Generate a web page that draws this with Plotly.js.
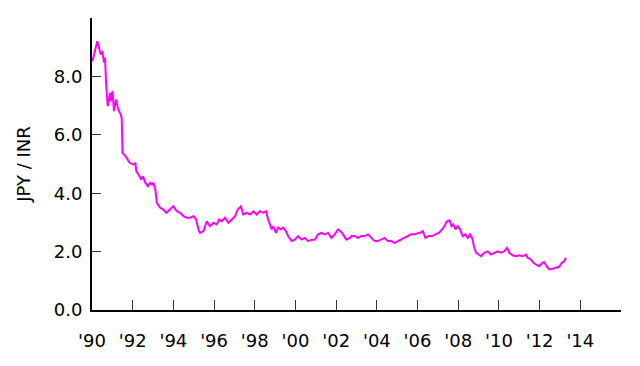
<!DOCTYPE html>
<html>
<head>
<meta charset="utf-8">
<script src="https://cdn.plot.ly/plotly-3.0.1.min.js"></script>
<style>html,body{margin:0;padding:0;background:#fff;}#chart{width:640px;height:366px;}</style>
</head>
<body>
<div id="chart"></div>
<script>
// Decimal years and JPY per INR values
var years = [
1990.02,1990.26,1990.43,1990.51,1990.59,1990.64,1990.69,1990.77,1990.89,1990.94,
1991.01,1991.08,1991.18,1991.29,1991.41,1991.46,1991.50,1991.65,1991.85,1992.04,
1992.13,1992.18,1992.29,1992.42,1992.50,1992.62,1992.75,1992.86,1992.95,1993.02,
1993.11,1993.19,1993.35,1993.51,1993.65,1993.84,1994.00,1994.17,1994.33,1994.50,
1994.66,1994.82,1994.99,1995.12,1995.23,1995.31,1995.48,1995.64,1995.80,1995.97,
1996.13,1996.25,1996.38,1996.54,1996.70,1996.87,1997.03,1997.16,1997.32,1997.44,
1997.60,1997.76,1997.93,1998.09,1998.25,1998.42,1998.55,1998.66,1998.83,1998.91,
1999.04,1999.15,1999.27,1999.40,1999.53,1999.64,1999.81,1999.97,2000.13,2000.30,
2000.46,2000.62,2000.79,2000.95,2001.11,2001.28,2001.44,2001.60,2001.77,2001.93,
2002.09,2002.21,2002.34,2002.50,2002.67,2002.75,2002.91,2003.07,2003.24,2003.40,
2003.56,2003.73,2003.89,2004.05,2004.22,2004.38,2004.54,2004.71,2004.87,2005.03,
2005.20,2005.36,2005.52,2005.69,2005.85,2006.01,2006.18,2006.26,2006.39,2006.55,
2006.72,2006.88,2007.04,2007.21,2007.32,2007.44,2007.57,2007.67,2007.76,2007.86,
2007.98,2008.09,2008.22,2008.35,2008.47,2008.58,2008.68,2008.79,2008.88,2009.00,
2009.12,2009.28,2009.45,2009.61,2009.77,2009.94,2010.10,2010.26,2010.40,2010.51,
2010.67,2010.84,2011.00,2011.16,2011.33,2011.41,2011.57,2011.70,2011.82,2011.98,
2012.14,2012.23,2012.34,2012.47,2012.63,2012.80,2012.96,2013.09,2013.21,2013.29
];
var jpyPerInr = [
8.52,9.20,8.75,8.86,8.47,8.65,7.80,6.98,7.44,7.15,
7.50,6.81,7.21,6.87,6.70,6.58,5.38,5.27,5.04,4.98,
5.04,4.75,4.64,4.47,4.58,4.36,4.24,4.36,4.30,4.36,
4.13,3.67,3.50,3.44,3.33,3.44,3.55,3.38,3.33,3.21,
3.16,3.16,3.21,3.10,2.76,2.64,2.70,3.04,2.87,2.99,
2.93,3.10,3.04,3.16,2.99,3.10,3.21,3.44,3.55,3.27,
3.33,3.27,3.38,3.27,3.38,3.33,3.38,3.10,2.76,2.87,
2.64,2.82,2.76,2.82,2.70,2.53,2.36,2.41,2.53,2.41,
2.47,2.36,2.41,2.41,2.59,2.64,2.59,2.64,2.47,2.59,
2.76,2.70,2.59,2.41,2.47,2.53,2.53,2.47,2.53,2.53,
2.59,2.47,2.36,2.36,2.41,2.47,2.36,2.36,2.30,2.36,
2.41,2.47,2.53,2.59,2.59,2.62,2.66,2.70,2.47,2.53,
2.53,2.59,2.64,2.76,2.87,3.04,3.07,2.87,2.93,2.76,
2.87,2.76,2.53,2.59,2.47,2.59,2.47,2.13,1.96,1.90,
1.84,1.96,2.01,1.90,1.96,2.01,1.96,2.01,2.13,1.96,
1.87,1.84,1.87,1.84,1.90,1.79,1.73,1.62,1.56,1.50,
1.62,1.64,1.50,1.39,1.41,1.44,1.48,1.62,1.67,1.79
];
var xTickVals = [1990,1992,1994,1996,1998,2000,2002,2004,2006,2008,2010,2012,2014];
var xTickText = ["'90","'92","'94","'96","'98","'00","'02","'04","'06","'08","'10","'12","'14"];
var yTickVals = [0,2,4,6,8];
var yTickText = ["0.0","2.0","4.0","6.0","8.0"];

var trace = {
  x: years, y: jpyPerInr, type: 'scatter', mode: 'lines',
  line: {color: '#ff00ff', width: 2}, hoverinfo: 'skip'
};
var axisFont = {family: 'DejaVu Sans', size: 18, color: '#000'};
var layout = {
  width: 640, height: 366,
  margin: {l: 92, r: 19, t: 18, b: 56, pad: 0},
  paper_bgcolor: '#fff', plot_bgcolor: '#fff',
  showlegend: false,
  font: axisFont,
  xaxis: {
    range: [1990, 2016], tickvals: xTickVals, ticktext: xTickText,
    ticks: 'inside', ticklen: 10, tickwidth: 1, tickcolor: '#333',
    showline: true, linecolor: '#000', linewidth: 2, mirror: false,
    showgrid: false, zeroline: false, tickfont: axisFont, fixedrange: true,
    ticklabelstandoff: 13
  },
  yaxis: {
    range: [0, 10], tickvals: yTickVals, ticktext: yTickText,
    ticks: 'inside', ticklen: 9, tickwidth: 1, tickcolor: '#333',
    showline: true, linecolor: '#000', linewidth: 2,
    showgrid: false, zeroline: false, tickfont: axisFont, fixedrange: true,
    ticklabelstandoff: 4,
    title: {text: 'JPY / INR', font: axisFont, standoff: 18}
  }
};
Plotly.newPlot('chart', [trace], layout, {staticPlot: true, displayModeBar: false});
</script>
</body>
</html>
